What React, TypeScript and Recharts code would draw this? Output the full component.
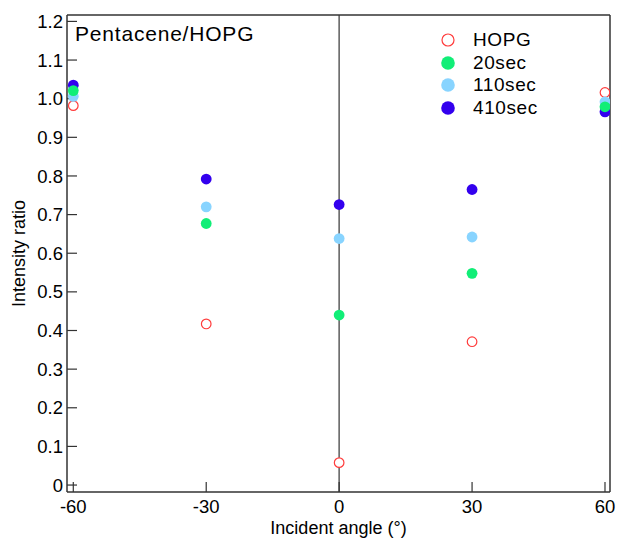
import { ScatterChart, Scatter, XAxis, YAxis, ReferenceLine, Label } from 'recharts';

const angles = [-60, -30, 0, 30, 60];
const hopg = [0.982, 0.417, 0.058, 0.371, 1.016];
const sec20 = [1.021, 0.677, 0.44, 0.548, 0.979];
const sec110 = [1.006, 0.72, 0.638, 0.642, 0.992];
const sec410 = [1.035, 0.792, 0.726, 0.765, 0.966];

const xTicks = [-60, -30, 0, 30, 60];
const yTicks = [0, 0.1, 0.2, 0.3, 0.4, 0.5, 0.6, 0.7, 0.8, 0.9, 1.0, 1.1, 1.2];

const FONT = '"Liberation Sans", Arial, sans-serif';
const AXIS = '#333';

interface SeriesDef {
    name: string;
    values: number[];
    color: string;
    open: boolean;
}

// drawing order matters: green sits on top of the blues
const series: SeriesDef[] = [
    { name: 'HOPG', values: hopg, color: '#ff3b3b', open: true },
    { name: '410sec', values: sec410, color: '#3300ee', open: false },
    { name: '110sec', values: sec110, color: '#88d4ff', open: false },
    { name: '20sec', values: sec20, color: '#11ee77', open: false },
];

const legendOrder = ['HOPG', '20sec', '110sec', '410sec'];

const toPoints = (values: number[]) => angles.map((a, i) => ({ x: a, y: values[i] }));

const Dot = (color: string, open: boolean) => (props: any) => {
    const { cx, cy } = props;
    if (cx == null || cy == null) return null;
    return open ? (
        <circle cx={cx} cy={cy} r={4.8} fill="#fff" stroke={color} strokeWidth={1.2} />
    ) : (
        <circle cx={cx} cy={cy} r={5.4} fill={color} />
    );
};

const tickStyle = { fontSize: 18.5, fill: '#000', fontFamily: FONT };

export default function App() {
    return (
        <div style={{ position: 'absolute', left: 0, top: 0, width: 618, height: 539, background: '#fff', fontFamily: FONT }}>
            <ScatterChart width={618} height={539} margin={{ top: 14, right: 7, bottom: 0, left: 0 }}>
                <XAxis
                    xAxisId={0}
                    dataKey="x"
                    type="number"
                    domain={[-61.42, 61.13]}
                    allowDataOverflow
                    ticks={xTicks}
                    interval={0}
                    height={47}
                    tickSize={-10}
                    tickMargin={18}
                    tick={tickStyle}
                    axisLine={{ stroke: AXIS, strokeWidth: 1.5 }}
                    tickLine={{ stroke: AXIS, strokeWidth: 1.2 }}
                >
                    <Label
                        content={({ viewBox }: any) => (
                            <text
                                x={viewBox.x + viewBox.width / 2}
                                y={viewBox.y + viewBox.height - 5}
                                textAnchor="middle"
                                fontSize={18}
                                fontFamily={FONT}
                                fill="#000"
                            >
                                Incident angle (°)
                            </text>
                        )}
                    />
                </XAxis>
                <XAxis
                    xAxisId="top"
                    orientation="top"
                    type="number"
                    domain={[-61.42, 61.13]}
                    allowDataOverflow
                    ticks={xTicks}
                    interval={0}
                    height={1}
                    tickSize={-10}
                    tick={false}
                    axisLine={{ stroke: AXIS, strokeWidth: 1.5 }}
                    tickLine={{ stroke: AXIS, strokeWidth: 1.2 }}
                />
                <YAxis
                    yAxisId={0}
                    dataKey="y"
                    type="number"
                    domain={[-0.018, 1.2166]}
                    allowDataOverflow
                    ticks={yTicks}
                    interval={0}
                    width={67}
                    tickSize={-10}
                    tickMargin={14}
                    tick={tickStyle}
                    tickFormatter={(v: number) => (v === 0 ? '0' : v.toFixed(1))}
                    axisLine={{ stroke: AXIS, strokeWidth: 1.5 }}
                    tickLine={{ stroke: AXIS, strokeWidth: 1.2 }}
                >
                    <Label
                        content={({ viewBox }: any) => {
                            const cy = viewBox.y + viewBox.height / 2;
                            return (
                                <text
                                    x={25}
                                    y={cy}
                                    transform={`rotate(-90 25 ${cy})`}
                                    textAnchor="middle"
                                    fontSize={18}
                                    fontFamily={FONT}
                                    fill="#000"
                                >
                                    Intensity ratio
                                </text>
                            );
                        }}
                    />
                </YAxis>
                <YAxis
                    yAxisId="right"
                    orientation="right"
                    type="number"
                    domain={[-0.018, 1.2166]}
                    allowDataOverflow
                    ticks={yTicks}
                    interval={0}
                    width={1}
                    tickSize={-10}
                    tick={false}
                    axisLine={{ stroke: AXIS, strokeWidth: 1.5 }}
                    tickLine={{ stroke: AXIS, strokeWidth: 1.2 }}
                />
                <ReferenceLine x={0} stroke="#666" strokeWidth={1.6} />
                {series.map((s) => (
                    <Scatter
                        key={s.name}
                        name={s.name}
                        data={toPoints(s.values)}
                        fill={s.color}
                        shape={Dot(s.color, s.open)}
                        isAnimationActive={false}
                    />
                ))}
            </ScatterChart>
            <div
                style={{
                    position: 'absolute',
                    left: 75,
                    top: 23,
                    fontSize: 21,
                    lineHeight: '21px',
                    letterSpacing: 0.8,
                    color: '#000',
                    whiteSpace: 'nowrap',
                }}
            >
                Pentacene/HOPG
            </div>
            <div style={{ position: 'absolute', left: 436, top: 29 }}>
                {legendOrder.map((name) => {
                    const s = series.find((d) => d.name === name)!;
                    return (
                        <div key={name} style={{ display: 'flex', alignItems: 'center', height: 22.6 }}>
                            <svg width={24} height={22} style={{ display: 'block' }}>
                                {s.open ? (
                                    <circle cx={12} cy={11} r={6} fill="#fff" stroke={s.color} strokeWidth={1.2} />
                                ) : (
                                    <circle cx={12} cy={11} r={6.8} fill={s.color} />
                                )}
                            </svg>
                            <span style={{ marginLeft: 13, fontSize: 19, letterSpacing: 0.6, color: '#000', lineHeight: '22px' }}>
                                {name}
                            </span>
                        </div>
                    );
                })}
            </div>
        </div>
    );
}
